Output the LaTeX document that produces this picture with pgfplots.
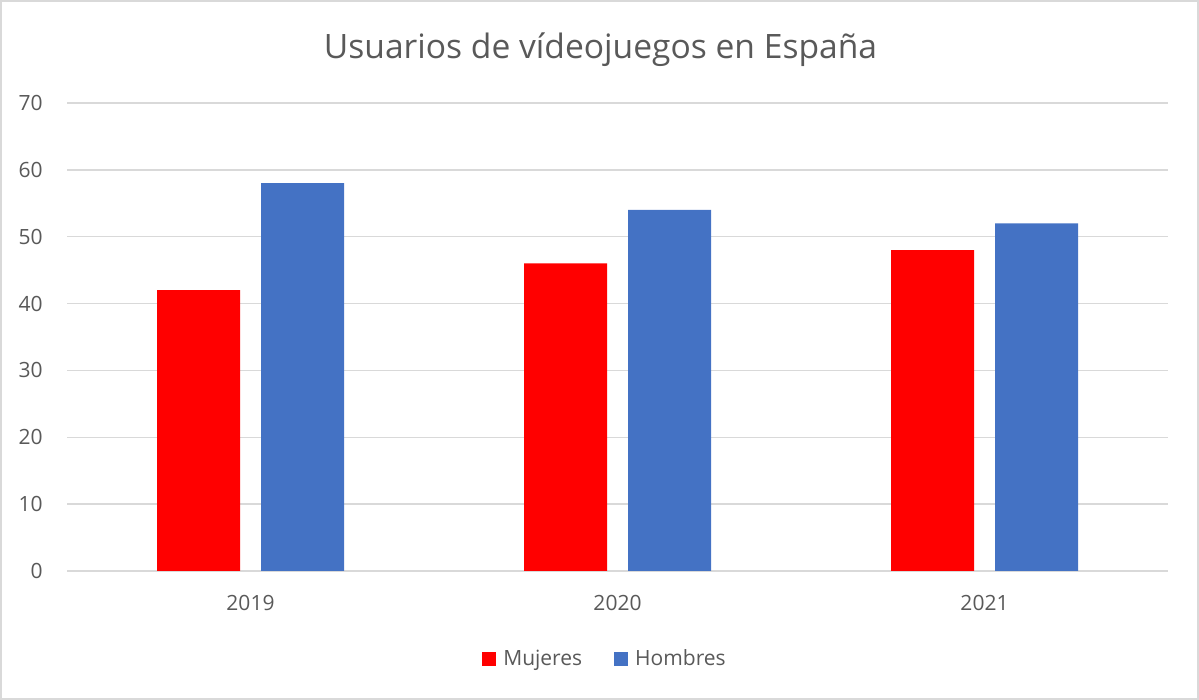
\documentclass[border=0pt]{standalone}
\usepackage{pgfplots}
\pgfplotsset{compat=1.18}
\usepackage{fontspec}
\setmainfont{Open Sans}

\definecolor{txtgray}{HTML}{595959}
\definecolor{gridgray}{HTML}{D9D9D9}
\definecolor{mujred}{HTML}{FF0000}
\definecolor{hombblue}{HTML}{4472C4}

\begin{document}
\begin{tikzpicture}
% frame of the chart (1 px = 0.5pt)
\useasboundingbox (0,0) rectangle (599.5pt,350pt);
\draw[gridgray, line width=1pt] (0.5pt,0.5pt) rectangle (599pt,349.5pt);
\begin{axis}[
	at={(33.5pt,64.5pt)}, anchor=south west,
	scale only axis,
	width=550.5pt, height=234pt,
	ybar=10.5pt,
	bar width=41.5pt,
	xmin=-0.5, xmax=2.5,
	ymin=0, ymax=70,
	ytick distance=10,
	xtick={0,1,2},
	xticklabels={2019,2020,2021},
	major tick length=0pt,
	axis line style={draw=none},
	ymajorgrids,
	grid style={gridgray, line width=0.75pt},
	/pgf/number format/assume math mode=true,
	tick label style={font=\fontsize{10.5}{12}\selectfont, text=txtgray},
	yticklabel style={anchor=east, inner sep=0pt, xshift=-12pt},
	xticklabel style={anchor=base, inner sep=0pt, yshift=-20pt},
	title={Usuarios de vídeojuegos en España},
	title style={at={(0.5,1)}, anchor=base, yshift=16.5pt, xshift=-8.5pt, inner sep=0pt,
		font=\fontsize{16.8}{20}\selectfont, text=txtgray},
	legend columns=2,
	legend style={at={(0.5,0)}, anchor=center, yshift=-44pt, xshift=-5pt, draw=none,
		font=\fontsize{10.5}{12}\selectfont, text=txtgray,
		/tikz/every even column/.append style={column sep=12.5pt},
		nodes={inner xsep=3.5pt, inner ysep=1pt}},
	legend image code/.code={\fill[#1] (0pt,-3.5pt) rectangle (7pt,3.5pt);},
]
\addplot[fill=mujred, draw=none] coordinates {(0,42) (1,46) (2,48)};
\addplot[fill=hombblue, draw=none] coordinates {(0,58) (1,54) (2,52)};
\legend{Mujeres,Hombres}
\end{axis}
\end{tikzpicture}
\end{document}
